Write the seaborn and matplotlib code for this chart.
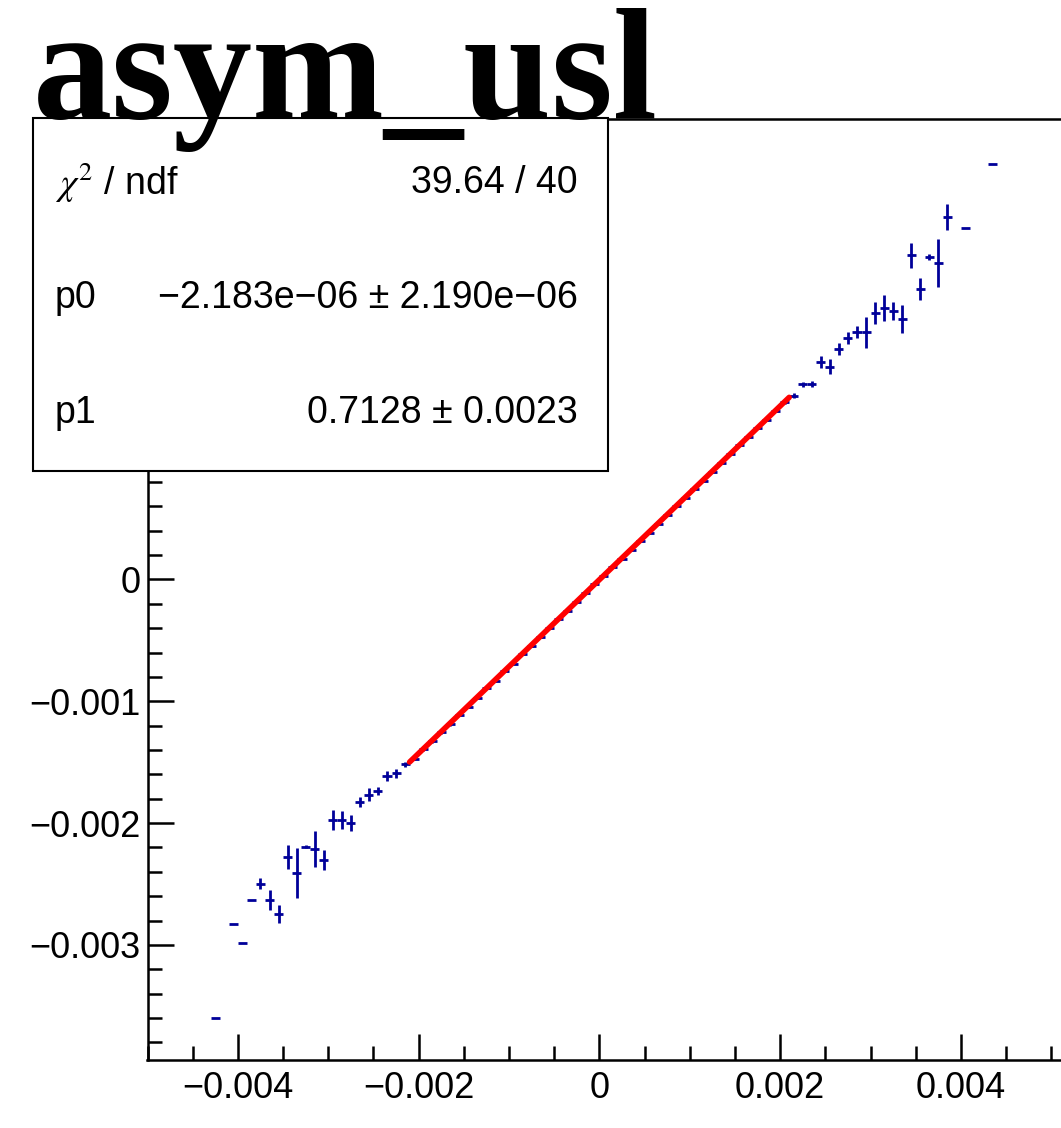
import matplotlib
matplotlib.use('Agg')
import matplotlib.pyplot as plt
import matplotlib.ticker as mticker
from matplotlib.patches import Rectangle
import seaborn as sns

# profile bins (centres), mean values and errors
bin_x = [-0.00425, -0.00405, -0.00395, -0.00385, -0.00375, -0.00365, -0.00355,
         -0.00345, -0.00335, -0.00325, -0.00315, -0.00305, -0.00295, -0.00285,
         -0.00275, -0.00265, -0.00255, -0.00245, -0.00235, -0.00225, -0.00215,
         -0.00205, -0.00195, -0.00185, -0.00175, -0.00165, -0.00155, -0.00145,
         -0.00135, -0.00125, -0.00115, -0.00105, -0.00095, -0.00085, -0.00075,
         -0.00065, -0.00055, -0.00045, -0.00035, -0.00025, -0.00015, -0.00005,
         0.00005, 0.00015, 0.00025, 0.00035, 0.00045, 0.00055, 0.00065,
         0.00075, 0.00085, 0.00095, 0.00105, 0.00115, 0.00125, 0.00135,
         0.00145, 0.00155, 0.00165, 0.00175, 0.00185, 0.00195, 0.00205,
         0.00215, 0.00225, 0.00235, 0.00245, 0.00255, 0.00265, 0.00275,
         0.00285, 0.00295, 0.00305, 0.00315, 0.00325, 0.00335, 0.00345,
         0.00355, 0.00365, 0.00375, 0.00385, 0.00405, 0.00435]

mean_y = [-0.003598, -0.002831, -0.002984, -0.002631, -0.002500, -0.002631, -0.002746,
          -0.002281, -0.002412, -0.002194, -0.002215, -0.002303, -0.001975, -0.001975,
          -0.001997, -0.001824, -0.001769, -0.001734, -0.001611, -0.001591, -0.001517,
          -0.001470, -0.001395, -0.001330, -0.001255, -0.001190, -0.001110, -0.001045,
          -0.000970, -0.000895, -0.000830, -0.000755, -0.000690, -0.000612, -0.000545,
          -0.000470, -0.000400, -0.000325, -0.000258, -0.000184, -0.000112, -0.000040,
          0.000030, 0.000100, 0.000170, 0.000245, 0.000315, 0.000385, 0.000458,
          0.000527, 0.000600, 0.000670, 0.000742, 0.000812, 0.000885, 0.000955,
          0.001028, 0.001100, 0.001172, 0.001240, 0.001312, 0.001385, 0.001455,
          0.001507, 0.001603, 0.001603, 0.001788, 0.001747, 0.001892, 0.001985,
          0.002030, 0.002030, 0.002186, 0.002227, 0.002204, 0.002139, 0.002660,
          0.002383, 0.002645, 0.002601, 0.002974, 0.002883, 0.003409]

err_y = [0.0, 0.0, 0.0, 0.0, 0.000045, 0.000082, 0.000074,
         0.000100, 0.000205, 0.000010, 0.000148, 0.000082, 0.000082, 0.000074,
         0.000066, 0.000041, 0.000053, 0.000033, 0.000041, 0.000037, 0.000020,
         0.000012, 0.000010, 0.000010, 0.000010, 0.000009, 0.000009, 0.000008,
         0.000008, 0.000008, 0.000008, 0.000008, 0.000008, 0.000008, 0.000008,
         0.000008, 0.000008, 0.000008, 0.000008, 0.000008, 0.000008, 0.000008,
         0.000008, 0.000008, 0.000008, 0.000008, 0.000008, 0.000008, 0.000008,
         0.000008, 0.000008, 0.000008, 0.000008, 0.000008, 0.000008, 0.000008,
         0.000008, 0.000008, 0.000009, 0.000009, 0.000010, 0.000010, 0.000012,
         0.000020, 0.000020, 0.000025, 0.000050, 0.000062, 0.000050, 0.000050,
         0.000050, 0.000127, 0.000090, 0.000107, 0.000074, 0.000115, 0.000100,
         0.000090, 0.000025, 0.000197, 0.000107, 0.0, 0.0]

half_bin = 0.00005

# pol1 fit over the fit range
fit_x = [-0.0021, 0.0021]
fit_y = [-0.001499, 0.001495]

stat_names = [r'$\chi^{2}$ / ndf', 'p0', 'p1']
stat_values = ['39.64 / 40',
               '\u22122.183e\u221206 \u00b1 2.190e\u221206',
               '0.7128 \u00b1 0.0023']

sns.set_theme(style='ticks')
plt.rcParams['font.family'] = ['Liberation Sans', 'DejaVu Sans']
plt.rcParams['mathtext.fontset'] = 'stix'
plt.rcParams['text.color'] = 'black'

W, H = 1061, 1128
fig = plt.figure(figsize=(W / 100, H / 100), dpi=100)
ax = fig.add_axes([147.5 / W, (H - 1060) / H, 949 / W, (1060 - 119) / H])

ax.errorbar(bin_x, mean_y, xerr=half_bin, yerr=err_y, fmt='none',
            ecolor='#000099', elinewidth=2.0, capsize=0, zorder=2)
sns.lineplot(x=fit_x, y=fit_y, color='red', linewidth=4, ax=ax, zorder=3)

ax.set_xlim(-0.005, 0.0055)
ax.set_ylim(-0.003945, 0.00378)

def fmt(v, pos):
    if abs(v) < 1e-9:
        return '0'
    return f'{v:.3f}'.replace('-', '\u2212')

def fmt_y(v, pos):
    # positive labels sit under the stats box anyway
    if v > 1e-9:
        return ''
    return fmt(v, pos)

ax.xaxis.set_major_locator(mticker.MultipleLocator(0.002))
ax.xaxis.set_minor_locator(mticker.MultipleLocator(0.0005))
ax.yaxis.set_major_locator(mticker.MultipleLocator(0.001))
ax.yaxis.set_minor_locator(mticker.MultipleLocator(0.0002))
ax.xaxis.set_major_formatter(mticker.FuncFormatter(fmt))
ax.yaxis.set_major_formatter(mticker.FuncFormatter(fmt_y))
ax.tick_params(which='both', direction='in', width=1.8, color='black',
               top=False, right=False, labelsize=26, labelcolor='black')
ax.tick_params(which='major', length=19)
ax.tick_params(which='minor', length=10)
ax.tick_params(axis='y', pad=5)
ax.tick_params(axis='x', pad=8)
for s in ax.spines.values():
    s.set_linewidth(1.8)
    s.set_color('black')
ax.set_facecolor('white')

# stats box
box = Rectangle((33 / W, (H - 471) / H), 575 / W, 353 / H, transform=fig.transFigure,
                facecolor='white', edgecolor='black', linewidth=1.5, zorder=5)
fig.add_artist(box)
rows_y = [183, 298, 413]
for name, val, ry in zip(stat_names, stat_values, rows_y):
    fig.text(55 / W, (H - ry) / H, name, fontsize=27, ha='left', va='center', zorder=6)
    fig.text(578 / W, (H - ry) / H, val, fontsize=27, ha='right', va='center', zorder=6)

fig.text(33 / W, (H - 118) / H, 'asym_usl', family='Liberation Serif', weight='bold',
         fontsize=114, color='black', ha='left', va='baseline', zorder=7)

fig.savefig('out.png', dpi=100)
